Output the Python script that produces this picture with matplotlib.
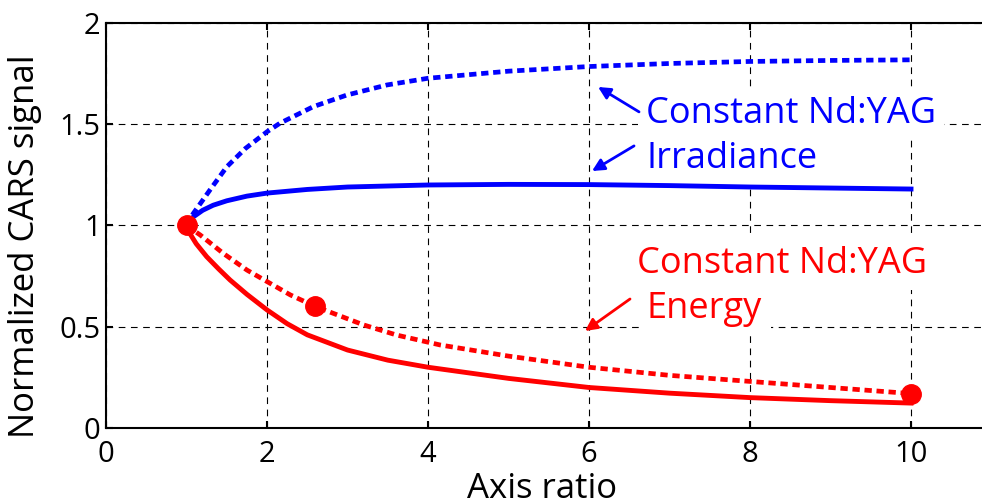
import matplotlib
matplotlib.use("Agg")
import matplotlib.pyplot as plt

# values
x_irr_dotted = [1.0, 1.085, 1.29, 1.5, 1.73, 2.0, 2.16, 2.575, 2.99, 3.49, 4.0, 5.0, 6.0, 7.0, 8.0, 9.0, 10.0]
y_irr_dotted = [1.0, 1.06, 1.175, 1.29, 1.38, 1.463, 1.505, 1.587, 1.644, 1.694, 1.727, 1.762, 1.785, 1.80, 1.81, 1.815, 1.818]

x_irr_solid = [1.0, 1.085, 1.2, 1.33, 1.5, 1.75, 2.0, 2.5, 3.0, 4.0, 5.0, 6.0, 7.0, 8.0, 9.0, 10.0]
y_irr_solid = [1.0, 1.043, 1.075, 1.10, 1.122, 1.145, 1.16, 1.178, 1.19, 1.2, 1.203, 1.202, 1.197, 1.19, 1.185, 1.18]

x_en_solid = [1.0, 1.04, 1.12, 1.25, 1.4, 1.54, 1.75, 2.0, 2.25, 2.5, 3.0, 3.5, 4.0, 5.0, 6.0, 7.0, 8.0, 9.0, 10.0]
y_en_solid = [1.0, 0.961, 0.91, 0.846, 0.785, 0.731, 0.66, 0.583, 0.515, 0.46, 0.385, 0.335, 0.30, 0.245, 0.20, 0.172, 0.15, 0.135, 0.123]

x_en_dotted = [1.0, 1.17, 1.457, 1.75, 2.0, 2.29, 2.6, 3.2, 3.61, 4.15, 5.0, 6.0, 7.0, 8.0, 9.0, 10.0]
y_en_dotted = [1.0, 0.953, 0.862, 0.78, 0.723, 0.657, 0.6, 0.509, 0.459, 0.41, 0.355, 0.30, 0.26, 0.23, 0.20, 0.17]

x_measured = [1.0, 2.6, 10.0]
y_measured = [1.0, 0.6, 0.17]

x_ticks = [0, 2, 4, 6, 8, 10]
y_ticks = [0, 0.5, 1, 1.5, 2]
y_tick_labels = ["0", "0.5", "1", "1.5", "2"]

BLUE = "#0000ff"
RED = "#ff0000"

plt.rcParams["font.family"] = ["Open Sans", "DejaVu Sans"]

fig = plt.figure(figsize=(9.82, 5.04), dpi=100)
ax = fig.add_axes([0.108, 0.1508, 0.9017, 0.8036])

dotted = (0, (1.55, 1.0))
ax.plot(x_irr_dotted, y_irr_dotted, color=BLUE, lw=3.4, linestyle=dotted, zorder=3)
ax.plot(x_irr_solid, y_irr_solid, color=BLUE, lw=3.5, zorder=3, solid_joinstyle="round")
ax.plot(x_en_dotted, y_en_dotted, color=RED, lw=3.4, linestyle=dotted, zorder=3)
ax.plot(x_en_solid, y_en_solid, color=RED, lw=3.5, zorder=3, solid_joinstyle="round")
ax.plot(x_measured, y_measured, "o", color=RED, markersize=14, zorder=4)

ax.set_xlim(0, 11)
ax.set_ylim(0, 2)
ax.set_xticks(x_ticks)
ax.set_yticks(y_ticks)
ax.set_yticklabels(y_tick_labels)
ax.grid(True, color="k", linestyle=(0, (6, 5)), linewidth=0.8)
ax.set_axisbelow(True)
for spine in ax.spines.values():
    spine.set_linewidth(1.5)
ax.tick_params(direction="in", length=5, width=1.5, top=True, right=True,
               labelsize=21)
ax.tick_params(axis="x", pad=9)
ax.tick_params(axis="y", pad=4)

ax.set_xlabel("Axis ratio", fontsize=25)
ax.xaxis.set_label_coords(0.492, -0.108)
ax.set_ylabel("Normalized CARS signal", fontsize=25)
ax.yaxis.set_label_coords(-0.072, 0.45)

box = dict(facecolor="white", edgecolor="none", pad=6)
ax.text(6.708, 1.506, "Constant Nd:YAG", color=BLUE, fontsize=26, va="baseline", bbox=box, zorder=2)
ax.text(6.708, 1.284, "Irradiance", color=BLUE, fontsize=26, va="baseline", bbox=box, zorder=2)
ax.text(6.596, 0.765, "Constant Nd:YAG", color=RED, fontsize=26, va="baseline", bbox=box, zorder=2)
ax.text(6.72, 0.543, "Energy", color=RED, fontsize=26, va="baseline", bbox=box, zorder=2)

arrow_blue = dict(arrowstyle="-|>", color=BLUE, lw=2, mutation_scale=18, shrinkA=0, shrinkB=0)
arrow_red = dict(arrowstyle="-|>", color=RED, lw=2, mutation_scale=18, shrinkA=0, shrinkB=0)
ax.annotate("", xy=(6.112, 1.684), xytext=(6.621, 1.561), arrowprops=arrow_blue)
ax.annotate("", xy=(6.037, 1.269), xytext=(6.559, 1.393), arrowprops=arrow_blue)
ax.annotate("", xy=(5.950, 0.479), xytext=(6.509, 0.637), arrowprops=arrow_red)

fig.savefig("out.png", dpi=100)
